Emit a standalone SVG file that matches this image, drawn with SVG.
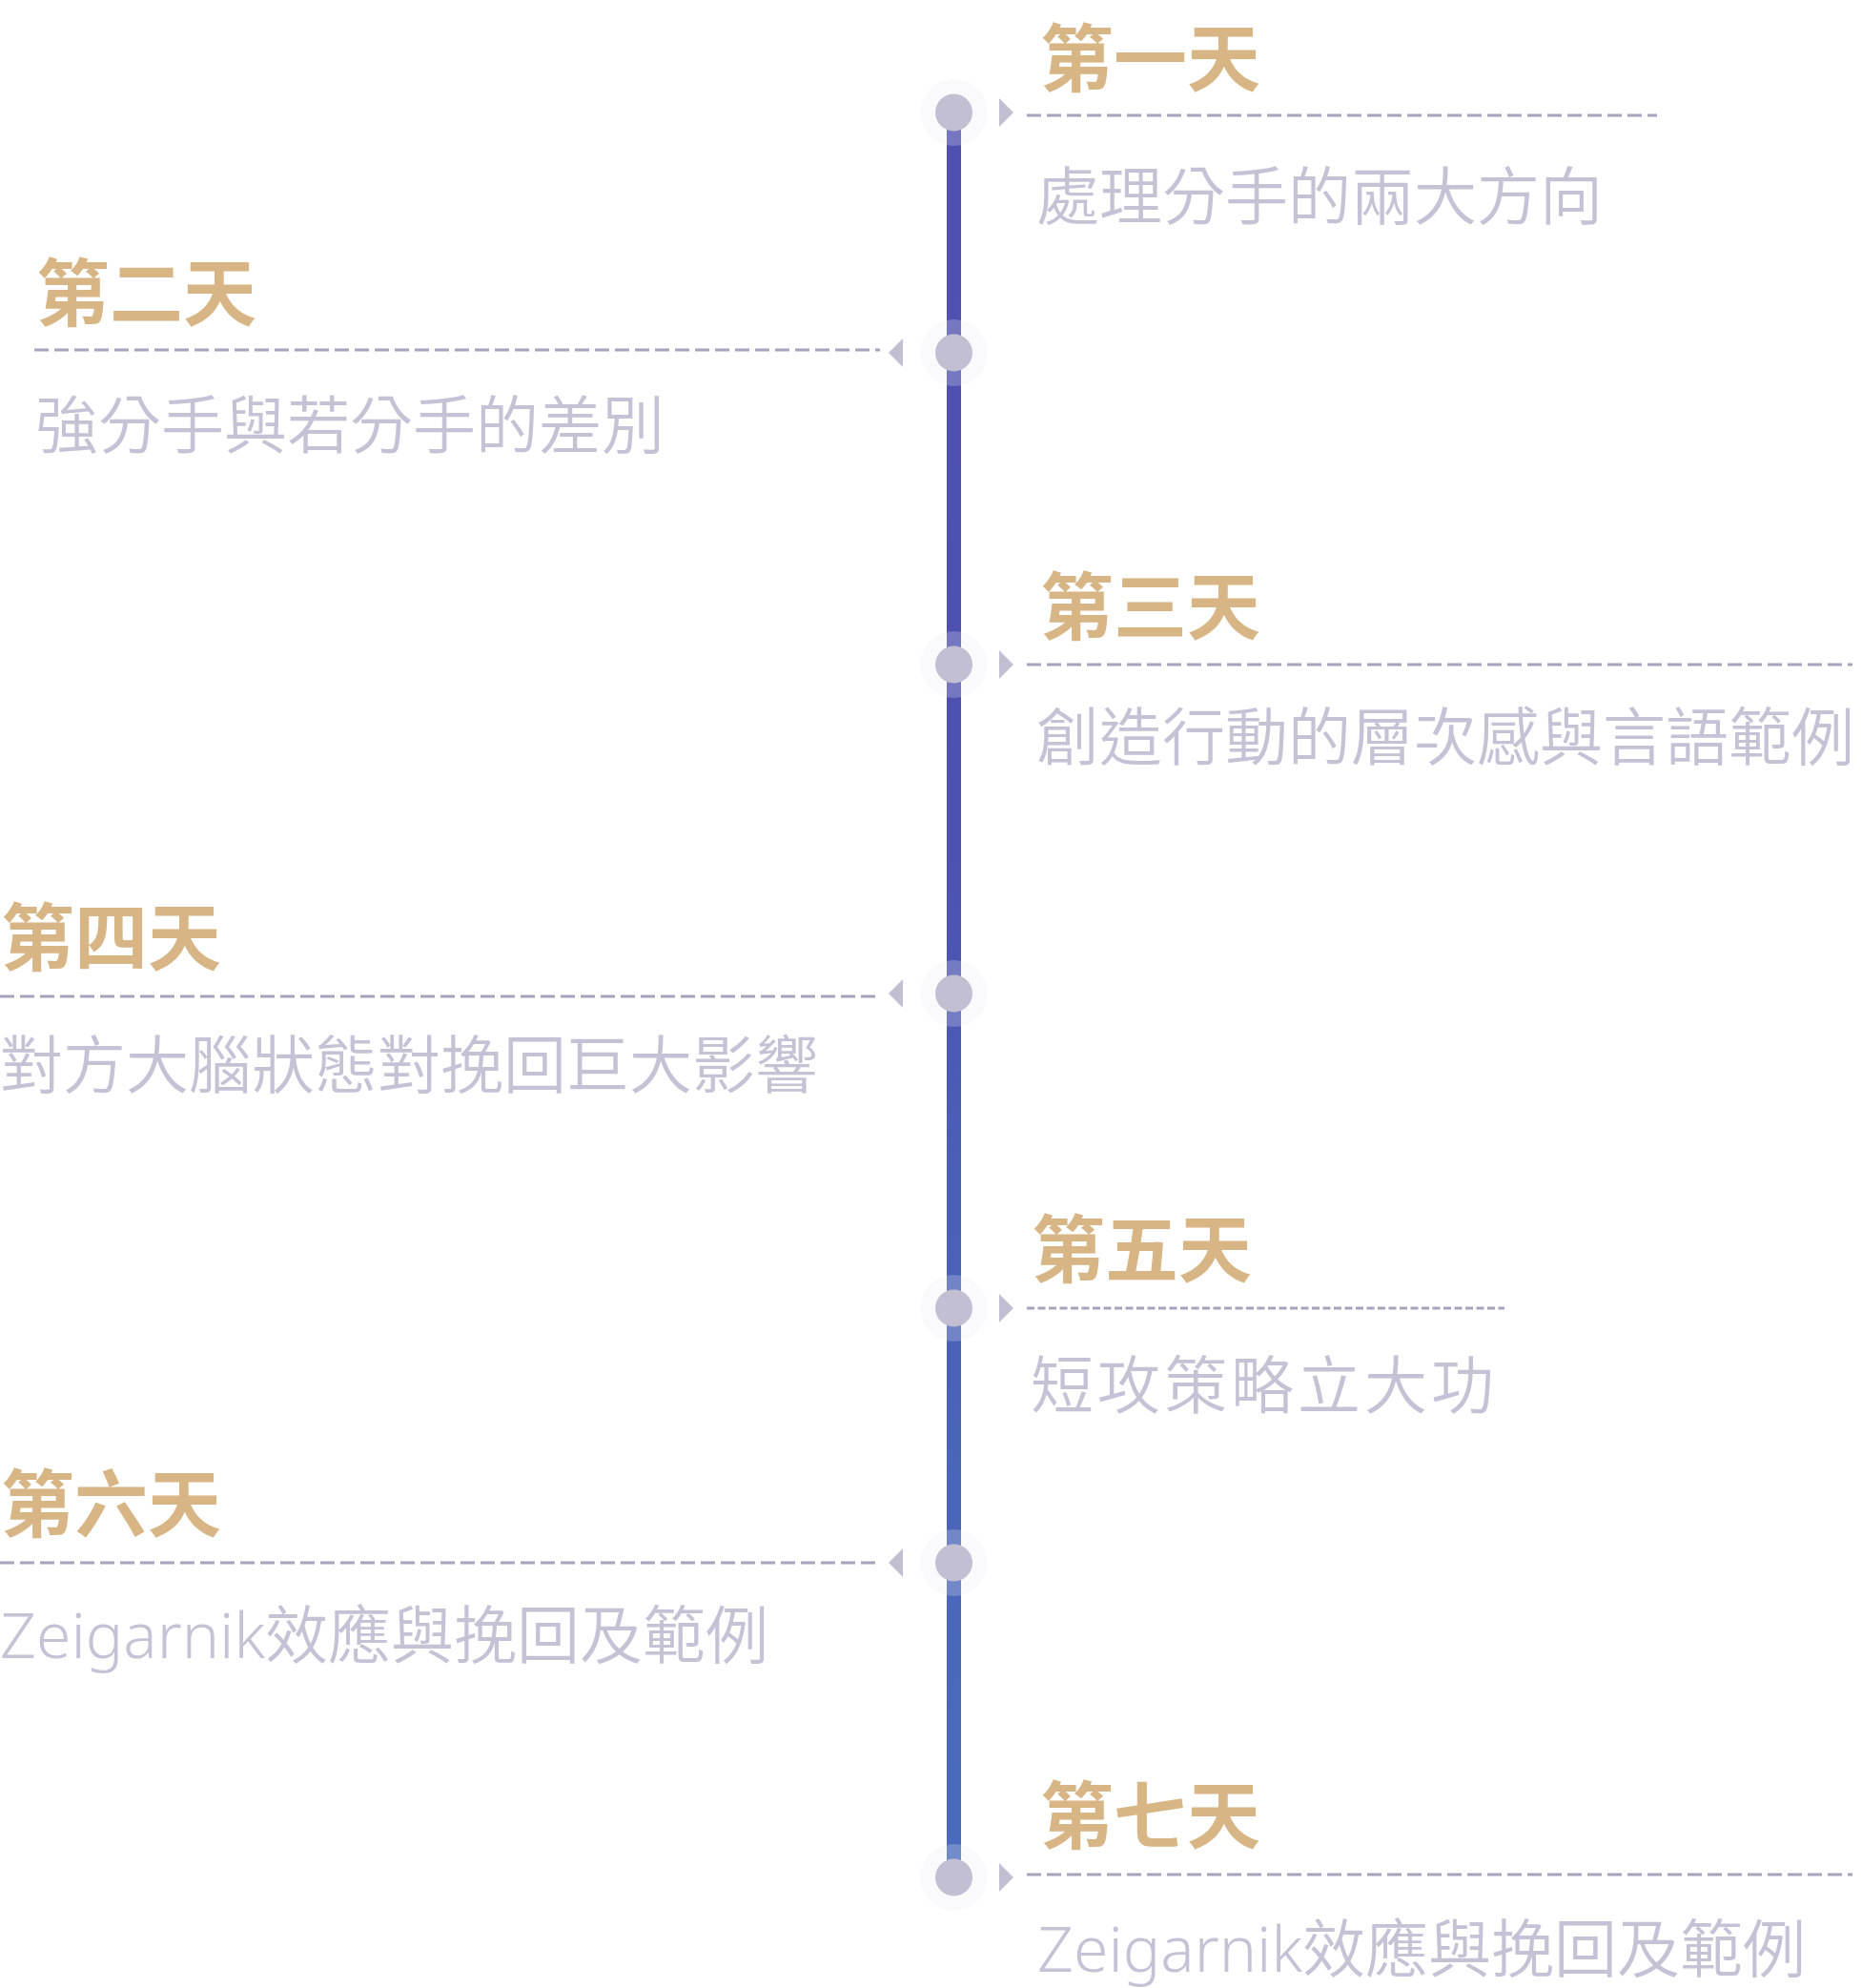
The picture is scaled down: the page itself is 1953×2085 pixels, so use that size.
<svg xmlns="http://www.w3.org/2000/svg" width="1953" height="2085" viewBox="0 0 1953 2085">
  <defs>
    <linearGradient id="lineGrad" gradientUnits="userSpaceOnUse" x1="0" y1="118" x2="0" y2="1969">
      <stop offset="0" stop-color="#5050b0"/>
      <stop offset="0.42" stop-color="#4e51b0"/>
      <stop offset="0.6" stop-color="#4a5fb6"/>
      <stop offset="1" stop-color="#4a6cbc"/>
    </linearGradient>
    <style>
      .title { font-family: "Noto Sans CJK TC", "Noto Sans CJK SC", sans-serif; font-weight: 700; font-size: 77px; fill: #d8b584; }
      .sub { font-family: "Noto Sans", "Noto Sans CJK TC", "Noto Sans CJK SC", sans-serif; font-weight: 350; font-size: 66px; fill: #c6c2d5; }
      .dash { stroke: #a8a2bd; stroke-width: 3; stroke-dasharray: 15 6; fill: none; }
      .dash-fine { stroke: #a8a2bd; stroke-width: 3; stroke-dasharray: 8 3.5; fill: none; }
      .halo { fill: #ecebf2; fill-opacity: 0.25; }
      .dot { fill: #c3bfd3; }
      .tri { fill: #c3bfd3; }
    </style>
  </defs>
  <rect width="1953" height="2085" fill="#ffffff"/>

  <g id="connectors">
    <line x1="1000.5" y1="118" x2="1000.5" y2="1969" stroke="url(#lineGrad)" stroke-width="15"/>
    <line class="dash" x1="1077" y1="121" x2="1738" y2="121"/>
    <line class="dash" x1="36" y1="367" x2="923" y2="367"/>
    <line class="dash" x1="1077" y1="697" x2="1943" y2="697"/>
    <line class="dash" x1="0" y1="1045" x2="923" y2="1045"/>
    <line class="dash-fine" x1="1077" y1="1372" x2="1578" y2="1372"/>
    <line class="dash" x1="0" y1="1639" x2="923" y2="1639"/>
    <line class="dash" x1="1077" y1="1966" x2="1943" y2="1966"/>
  </g>

  <g id="day1">
    <circle class="halo" cx="1000.5" cy="118" r="35"/>
    <circle class="dot" cx="1000.5" cy="118" r="19.5"/>
    <polygon class="tri" points="1048,103 1063,118 1048,133"/>
    <text class="title" x="1091" y="90">第一天</text>
    <text class="sub" x="1087" y="230">處理分手的兩大方向</text>
  </g>

  <g id="day2">
    <circle class="halo" cx="1000.5" cy="370" r="35"/>
    <circle class="dot" cx="1000.5" cy="370" r="19.5"/>
    <polygon class="tri" points="947,355 932,370 947,385"/>
    <text class="title" x="38" y="336">第二天</text>
    <text class="sub" x="37" y="470">強分手與若分手的差別</text>
  </g>

  <g id="day3">
    <circle class="halo" cx="1000.5" cy="697" r="35"/>
    <circle class="dot" cx="1000.5" cy="697" r="19.5"/>
    <polygon class="tri" points="1048,682 1063,697 1048,712"/>
    <text class="title" x="1091" y="665">第三天</text>
    <text class="sub" x="1087" y="797">創造行動的層次感與言語範例</text>
  </g>

  <g id="day4">
    <circle class="halo" cx="1000.5" cy="1042" r="35"/>
    <circle class="dot" cx="1000.5" cy="1042" r="19.5"/>
    <polygon class="tri" points="947,1027 932,1042 947,1057"/>
    <text class="title" x="1" y="1012">第四天</text>
    <text class="sub" x="0" y="1141">對方大腦狀態對挽回巨大影響</text>
  </g>

  <g id="day5">
    <circle class="halo" cx="1000.5" cy="1372" r="35"/>
    <circle class="dot" cx="1000.5" cy="1372" r="19.5"/>
    <polygon class="tri" points="1048,1357 1063,1372 1048,1387"/>
    <text class="title" x="1082" y="1339">第五天</text>
    <text class="sub" x="1081" y="1477" letter-spacing="4">短攻策略立大功</text>
  </g>

  <g id="day6">
    <circle class="halo" cx="1000.5" cy="1639" r="35"/>
    <circle class="dot" cx="1000.5" cy="1639" r="19.5"/>
    <polygon class="tri" points="947,1624 932,1639 947,1654"/>
    <text class="title" x="1" y="1606">第六天</text>
    <text class="sub" x="0" y="1739">Zeigarnik效應與挽回及範例</text>
  </g>

  <g id="day7">
    <circle class="halo" cx="1000.5" cy="1969" r="35"/>
    <circle class="dot" cx="1000.5" cy="1969" r="19.5"/>
    <polygon class="tri" points="1048,1954 1063,1969 1048,1984"/>
    <text class="title" x="1091" y="1933">第七天</text>
    <text class="sub" x="1088" y="2068">Zeigarnik效應與挽回及範例</text>
  </g>
</svg>
